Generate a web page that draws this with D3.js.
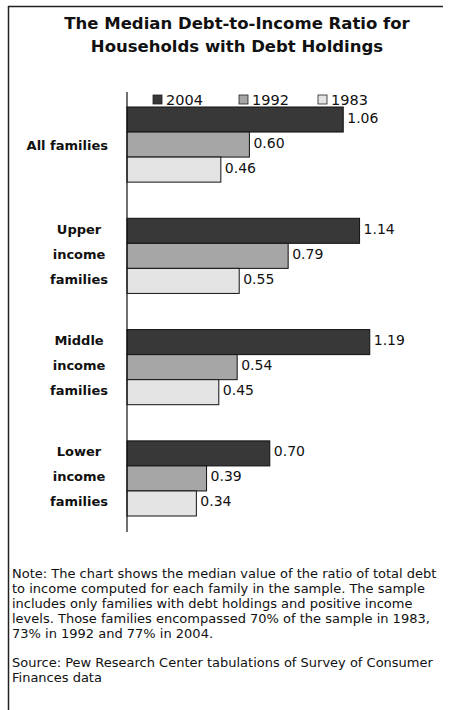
<!DOCTYPE html>
<html>
<head>
<meta charset="utf-8">
<script src="https://cdn.jsdelivr.net/npm/d3@7"></script>
<style>
  body { margin: 0; background: #fff; }
  svg text { font-family: "DejaVu Sans", Verdana, sans-serif; fill: #111; }
</style>
</head>
<body>
<div id="chart"></div>
<script>
var categories = ['All families', 'Upper income families', 'Middle income families', 'Lower income families'];
var categoryLines = [['All families'], ['Upper', 'income', 'families'], ['Middle', 'income', 'families'], ['Lower', 'income', 'families']];
var years = ['2004', '1992', '1983'];
var values2004 = [1.06, 1.14, 1.19, 0.70];
var values1992 = [0.60, 0.79, 0.54, 0.39];
var values1983 = [0.46, 0.55, 0.45, 0.34];
var yearColors = ['#383838', '#a6a6a6', '#e4e4e4'];
var titleLines = ['The Median Debt-to-Income Ratio for', 'Households with Debt Holdings'];
var noteLines = [
    'Note: The chart shows the median value of the ratio of total debt',
    'to income computed for each family in the sample. The sample',
    'includes only families with debt holdings and positive income',
    'levels. Those families encompassed 70% of the sample in 1983,',
    '73% in 1992 and 77% in 2004.'
];
var sourceLines = ['Source: Pew Research Center tabulations of Survey of Consumer', 'Finances data'];

var w = 454;
var h = 710;

var seriesValues = [values2004, values1992, values1983];
var rows = categories.map(function(c, i) {
    return {cat: c, lines: categoryLines[i], vals: years.map(function(y, j) { return {year: y, idx: j, v: seriesValues[j][i]}; })};
});

var svg = d3.select('#chart').append('svg').attr('width', w).attr('height', h);

// frame (left and top edges only are visible)
svg.append('line').attr('x1', 8.5).attr('y1', 6).attr('x2', 8.5).attr('y2', h).attr('stroke', '#222').attr('stroke-width', 1.5);
svg.append('line').attr('x1', 8).attr('y1', 6.5).attr('x2', 443).attr('y2', 6.5).attr('stroke', '#222').attr('stroke-width', 1.5);

// title
svg.selectAll('text.title')
    .data(titleLines)
    .enter()
    .append('text')
    .attr('class', 'title')
    .attr('x', 237)
    .attr('y', function(d, i) { return 29 + i * 23; })
    .attr('text-anchor', 'middle')
    .attr('font-size', 16.5)
    .attr('font-weight', 'bold')
    .text(function(d) { return d; });

var xScale = d3.scaleLinear().domain([0, 1.5]).range([127, 433]);

var yScale = d3.scaleBand()
    .domain(categories)
    .range([107, 516])
    .paddingInner(0.325)
    .paddingOuter(0);

var ySub = d3.scaleBand()
    .domain(years)
    .range([0, yScale.bandwidth()]);

// legend
var legendX = [153, 239, 318];
var legend = svg.selectAll('g.legend')
    .data(years)
    .enter()
    .append('g')
    .attr('class', 'legend')
    .attr('transform', function(d, i) { return 'translate(' + legendX[i] + ',95)'; });
legend.append('rect')
    .attr('width', 9).attr('height', 9)
    .attr('fill', function(d, i) { return yearColors[i]; })
    .attr('stroke', '#222').attr('stroke-width', 0.8);
legend.append('text')
    .attr('x', 13).attr('y', 10)
    .attr('font-size', 14.5)
    .text(function(d) { return d; });

// bars
var groups = svg.selectAll('g.group')
    .data(rows)
    .enter()
    .append('g')
    .attr('class', 'group')
    .attr('transform', function(d) { return 'translate(0,' + yScale(d.cat) + ')'; });

groups.selectAll('rect')
    .data(function(d) { return d.vals; })
    .enter()
    .append('rect')
    .attr('x', xScale(0))
    .attr('y', function(d) { return ySub(d.year); })
    .attr('width', function(d) { return xScale(d.v) - xScale(0); })
    .attr('height', ySub.bandwidth())
    .attr('fill', function(d) { return yearColors[d.idx]; })
    .attr('stroke', '#111')
    .attr('stroke-width', 1);

groups.selectAll('text.value')
    .data(function(d) { return d.vals; })
    .enter()
    .append('text')
    .attr('class', 'value')
    .attr('x', function(d) { return xScale(d.v) + 4; })
    .attr('y', function(d) { return ySub(d.year) + ySub.bandwidth() / 2 + 3; })
    .attr('font-size', 14)
    .text(function(d) { return d.v.toFixed(2); });

// category labels
groups.each(function(d) {
    var g = d3.select(this);
    var texts = g.selectAll('text.cat')
        .data(d.lines)
        .enter()
        .append('text')
        .attr('class', 'cat')
        .attr('font-size', 13)
        .attr('font-weight', 'bold')
        .attr('text-anchor', 'middle')
        .attr('y', function(t, i) {
            if (d.lines.length == 1) return yScale.bandwidth() / 2 + 5;
            return ySub(years[i]) + ySub.bandwidth() / 2 + 3;
        })
        .text(function(t) { return t; });
    var maxW = 0;
    texts.each(function() { maxW = Math.max(maxW, this.getComputedTextLength()); });
    texts.attr('x', 108 - maxW / 2);
});

// axis line
svg.append('line')
    .attr('x1', xScale(0)).attr('x2', xScale(0))
    .attr('y1', 92).attr('y2', 532)
    .attr('stroke', '#111').attr('stroke-width', 1.2);

// notes
svg.selectAll('text.note')
    .data(noteLines)
    .enter()
    .append('text')
    .attr('class', 'note')
    .attr('x', 12)
    .attr('y', function(d, i) { return 578 + i * 15; })
    .attr('font-size', 13)
    .text(function(d) { return d; });

svg.selectAll('text.source')
    .data(sourceLines)
    .enter()
    .append('text')
    .attr('class', 'source')
    .attr('x', 12)
    .attr('y', function(d, i) { return 667 + i * 15; })
    .attr('font-size', 13)
    .text(function(d) { return d; });
</script>
</body>
</html>
